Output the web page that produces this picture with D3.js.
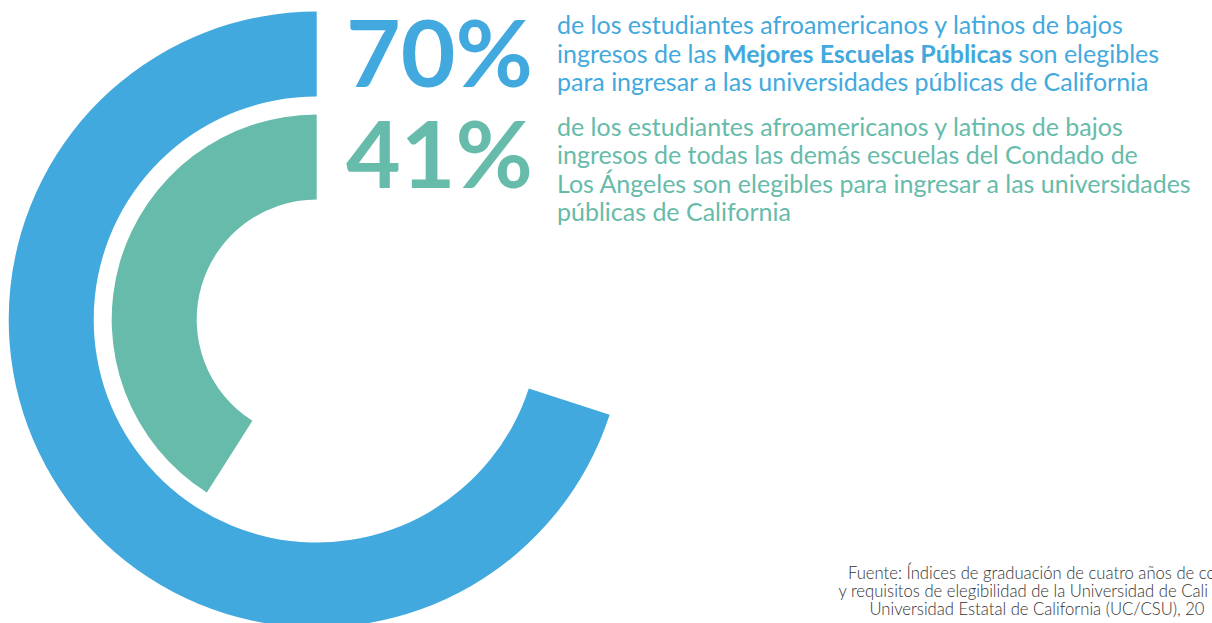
<!DOCTYPE html>
<html>
<head>
<meta charset="utf-8">
<script src="https://cdn.jsdelivr.net/npm/d3@7"></script>
<style>
  html, body { margin: 0; padding: 0; background: #fff; }
  svg { display: block; }
  text { font-family: Lato, "Noto Sans", sans-serif; }
</style>
</head>
<body>
<svg id="chart" width="1212" height="623"></svg>
<script>
// ---- data ----
const categories = ["Mejores Escuelas Públicas", "Todas las demás escuelas del Condado de Los Ángeles"];
const values = [70, 41];
const valueLabels = ["70%", "41%"];
const descBlue = [
  [{t: "de los estudiantes afroamericanos y latinos de bajos"}],
  [{t: "ingresos de las "}, {t: "Mejores Escuelas Públicas", b: true}, {t: " son elegibles"}],
  [{t: "para ingresar a las universidades públicas de California"}]
];
const descGreen = [
  [{t: "de los estudiantes afroamericanos y latinos de bajos"}],
  [{t: "ingresos de todas las demás escuelas del Condado de"}],
  [{t: "Los Ángeles son elegibles para ingresar a las universidades"}],
  [{t: "públicas de California"}]
];
const sourceLines = [
  "Fuente: Índices de graduación de cuatro años de co",
  "y requisitos de elegibilidad de la Universidad de Cali",
  "Universidad Estatal de California (UC/CSU), 20"
];

// ---- styles ----
const colors = ["#42a9de", "#66bbaa"];
const cx = 316.7, cy = 319.5;

const svg = d3.select("#chart");
const g = svg.append("g").attr("transform", `translate(${cx},${cy})`);

const angle = d3.scaleLinear().domain([0, 100]).range([0, -2 * Math.PI]);
const radius = d3.scaleBand()
  .domain(categories.slice().reverse())
  .range([120, 308])
  .paddingInner(0.1748)
  .paddingOuter(0);

const arc = d3.arc()
  .innerRadius(d => radius(d.c))
  .outerRadius(d => radius(d.c) + radius.bandwidth())
  .startAngle(0)
  .endAngle(d => angle(d.v));

const arcData = categories.map((c, i) => ({c, v: values[i], i}));
g.selectAll("path.bar").data(arcData).join("path")
  .attr("class", "bar")
  .attr("d", arc)
  .attr("fill", d => colors[d.i]);

// ---- big numbers ----
const bigBase = [87.3, 188.3];
svg.selectAll("text.big").data(valueLabels).join("text")
  .attr("class", "big")
  .attr("x", 346)
  .attr("y", (d, i) => bigBase[i])
  .attr("font-size", 91)
  .attr("font-weight", 700)
  .attr("textLength", 187)
  .attr("lengthAdjust", "spacingAndGlyphs")
  .attr("fill", (d, i) => colors[i])
  .text(d => d);

// ---- descriptions ----
// measure to fit width of first line (567px)
const probe = svg.append("text").attr("font-size", 100).text(descBlue[0][0].t);
const w100 = probe.node().getComputedTextLength();
probe.remove();
const bodySize = 100 * 566 / w100;

function para(lines, x, baselines, color) {
  lines.forEach((segs, li) => {
    const t = svg.append("text")
      .attr("x", x).attr("y", baselines[li])
      .attr("font-size", bodySize)
      .attr("fill", color)
      .attr("xml:space", "preserve");
    segs.forEach(s => {
      t.append("tspan")
        .attr("font-weight", s.b ? 700 : 400)
        .text(s.t);
    });
  });
}
para(descBlue, 557, [34, 62.5, 91], colors[0]);
para(descGreen, 557, [136, 164.3, 192.7, 221], colors[1]);

// ---- source ----
const probe2 = svg.append("text").attr("font-size", 100).attr("font-weight", 300).text(sourceLines[0]);
const ws = probe2.node().getComputedTextLength();
probe2.remove();
const srcSize = 100 * 368 / ws;
const srcX = [848, 838.5, 869.5];
const srcY = [579, 597, 615];
svg.selectAll("text.src").data(sourceLines).join("text")
  .attr("class", "src")
  .attr("x", (d, i) => srcX[i])
  .attr("y", (d, i) => srcY[i])
  .attr("font-size", srcSize)
  .attr("font-weight", 300)
  .attr("fill", "#333")
  .text(d => d);
</script>
</body>
</html>
